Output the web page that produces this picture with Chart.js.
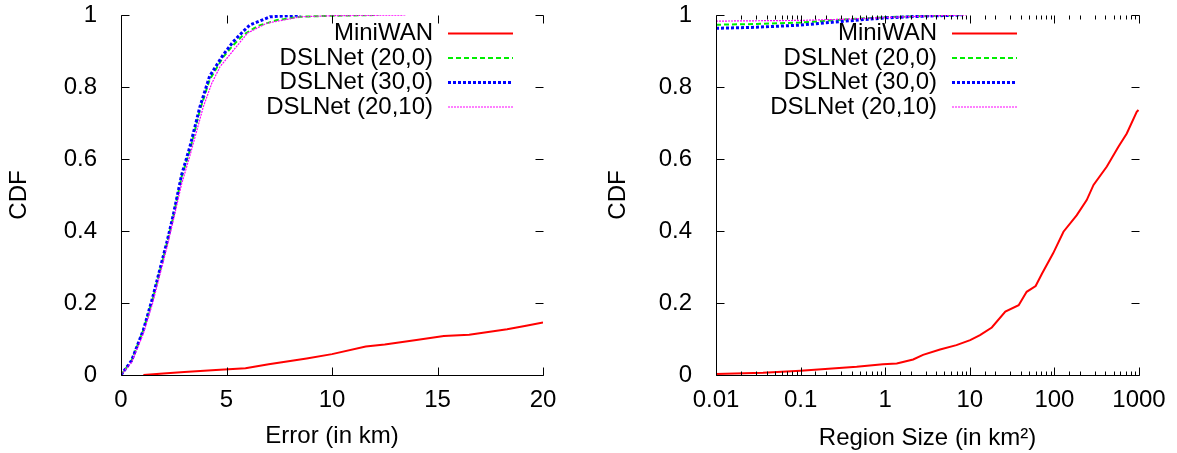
<!DOCTYPE html>
<html>
<head>
<meta charset="utf-8">
<script src="https://cdn.jsdelivr.net/npm/chart.js@4.4.1/dist/chart.umd.min.js"></script>
<style>
  html, body { margin: 0; padding: 0; background: #fff; }
  canvas { position: absolute; top: 0; }
  #left { left: 0; }
  #right { left: 588px; }
</style>
</head>
<body>
<canvas id="left" width="588" height="453"></canvas>
<canvas id="right" width="589" height="453"></canvas>
<script>
const seriesNames = ['MiniWAN', 'DSLNet (20,0)', 'DSLNet (30,0)', 'DSLNet (20,10)'];
const cdfTicks = [0, 0.2, 0.4, 0.6, 0.8, 1];
const errorTicks = [0, 5, 10, 15, 20];
const sizeTicks = [0.01, 0.1, 1, 10, 100, 1000];

// left plot: error in km -> CDF
const errMiniwan = [[1.06, 0], [2, 0.004], [3, 0.008], [4.5, 0.014], [5.9, 0.019], [7, 0.03], [8.8, 0.046],
  [10, 0.058], [11.6, 0.079], [12.5, 0.085], [14, 0.097], [15.3, 0.108], [16.5, 0.112], [18.3, 0.127],
  [19.2, 0.137], [20, 0.146]];
const errDsl200 = [[0, 0], [0.5, 0.04], [1.06, 0.125], [1.5, 0.21], [1.85, 0.29], [2.2, 0.37], [2.48, 0.44],
  [2.87, 0.55], [3.27, 0.625], [3.74, 0.736], [4.2, 0.82], [4.85, 0.884], [5.3, 0.915], [5.8, 0.945],
  [6.5, 0.97], [7.4, 0.986], [8.5, 0.995], [10, 0.998], [12.2, 1]];
const errDsl300 = [[0, 0], [0.5, 0.04], [1.06, 0.125], [1.5, 0.215], [1.85, 0.295], [2.2, 0.375], [2.48, 0.445],
  [2.87, 0.555], [3.27, 0.635], [3.74, 0.745], [4.2, 0.83], [4.85, 0.89], [5.32, 0.926], [5.8, 0.955],
  [6.1, 0.972], [7.06, 0.995], [8.5, 1]];
const errDsl2010 = [[0, 0], [0.5, 0.035], [1.06, 0.115], [1.5, 0.2], [1.85, 0.28], [2.2, 0.36], [2.48, 0.43],
  [2.87, 0.53], [3.27, 0.61], [3.9, 0.745], [4.3, 0.81], [4.69, 0.856], [5.3, 0.9], [6, 0.95],
  [6.9, 0.977], [8.5, 0.995], [10, 0.998], [13.5, 1]];

// right plot: region size in km^2 -> CDF
const sizeMiniwan = [[0.01, 0.003], [0.036, 0.006], [0.1, 0.012], [0.46, 0.023], [0.94, 0.03], [1.37, 0.032],
  [2.14, 0.043], [2.8, 0.056], [4.45, 0.071], [6.95, 0.083], [10.1, 0.097], [13.2, 0.111], [18.2, 0.132],
  [26.3, 0.176], [37.8, 0.194], [47, 0.231], [60, 0.247], [71.5, 0.282], [96.6, 0.338], [128, 0.398],
  [184, 0.444], [241, 0.486], [290, 0.528], [417, 0.579], [571, 0.634], [717, 0.671], [940, 0.731], [985, 0.736]];
const sizeDsl200 = [[0.01, 0.973], [0.03, 0.975], [0.1, 0.979], [0.3, 0.987], [1, 0.994], [3, 0.997], [8.5, 1]];
const sizeDsl300 = [[0.01, 0.963], [0.03, 0.966], [0.1, 0.972], [0.3, 0.982], [1, 0.992], [3, 0.997], [8, 1]];
const sizeDsl2010 = [[0.01, 0.983], [0.1, 0.985], [0.3, 0.988], [1, 0.993], [3, 0.997], [9, 1]];

Chart.defaults.font.family = '"Liberation Sans", Arial, sans-serif';
Chart.defaults.font.size = 24;
Chart.defaults.color = '#000';

const styles = [
  { color: '#ff0000', width: 2, dash: [] },
  { color: '#00ee00', width: 2, dash: [5, 3] },
  { color: '#0000ff', width: 3, dash: [3, 2] },
  { color: '#ff00ff', width: 1.2, dash: [2, 1] }
];

function makeSets(list) {
  return list.map((pts, i) => ({
    label: seriesNames[i],
    data: pts.map(([x, y]) => ({ x, y })),
    borderColor: styles[i].color,
    borderWidth: styles[i].width,
    borderDash: styles[i].dash,
    pointRadius: 0,
    tension: 0,
    fill: false,
    order: list.length - i
  }));
}

// axis lines on left/bottom, inward ticks mirrored on all sides
const frame = {
  id: 'frame',
  afterDraw(chart) {
    const { ctx, chartArea: a } = chart;
    const xs = chart.scales.x, ys = chart.scales.y;
    const L = Math.round(a.left) + 0.5, R = Math.round(a.right) + 0.5;
    const T = Math.round(a.top) + 0.5, B = Math.round(a.bottom) + 0.5;
    ctx.save();
    ctx.strokeStyle = '#000';
    ctx.lineWidth = 1;
    ctx.beginPath();
    ctx.moveTo(L, T); ctx.lineTo(L, B); ctx.lineTo(R, B);
    xs.ticks.forEach(t => {
      const px = Math.round(xs.getPixelForValue(t.value)) + 0.5;
      const len = t.label ? 8 : 4;
      ctx.moveTo(px, B); ctx.lineTo(px, B - len);
      ctx.moveTo(px, T); ctx.lineTo(px, T + len);
    });
    ys.ticks.forEach(t => {
      const py = Math.round(ys.getPixelForValue(t.value)) + 0.5;
      ctx.moveTo(L, py); ctx.lineTo(L + 8, py);
      ctx.moveTo(R, py); ctx.lineTo(R - 8, py);
    });
    ctx.stroke();
    ctx.restore();
  }
};

// gnuplot-like key: text right aligned, sample line after it
const key = {
  id: 'key',
  afterDraw(chart, args, o) {
    const ctx = chart.ctx;
    ctx.save();
    ctx.font = '24px "Liberation Sans", Arial, sans-serif';
    ctx.textAlign = 'right';
    ctx.textBaseline = 'middle';
    ctx.fillStyle = '#000';
    chart.data.datasets.forEach((ds, i) => {
      const yy = o.top + i * o.step;
      ctx.fillText(ds.label, o.textRight, yy);
      ctx.beginPath();
      ctx.strokeStyle = ds.borderColor;
      ctx.lineWidth = ds.borderWidth;
      ctx.setLineDash(ds.borderDash);
      ctx.moveTo(o.lineFrom, yy);
      ctx.lineTo(o.lineTo, yy);
      ctx.stroke();
    });
    ctx.restore();
  }
};

function yAxis(width, titlePad) {
  return {
    min: 0, max: 1,
    afterBuildTicks: s => { s.ticks = cdfTicks.map(v => ({ value: v })); },
    ticks: { padding: 16, callback: v => String(v) },
    grid: { display: false },
    border: { display: false },
    title: { display: true, text: 'CDF', padding: { top: titlePad, bottom: 0 } },
    afterFit: s => { s.width = width; s.paddingTop = 0; s.paddingBottom = 0; }
  };
}

function xFit(s) {
  s.height = 78;
  s.paddingLeft = 0;
  s.paddingRight = 0;
}

new Chart(document.getElementById('left'), {
  type: 'line',
  data: { datasets: makeSets([errMiniwan, errDsl200, errDsl300, errDsl2010]) },
  options: {
    responsive: false,
    animation: false,
    layout: { padding: { left: 0, top: 15, right: 45, bottom: 0 } },
    scales: {
      x: {
        type: 'linear', min: 0, max: 20,
        afterBuildTicks: s => { s.ticks = errorTicks.map(v => ({ value: v })); },
        ticks: { padding: 3, maxRotation: 0, autoSkip: false, callback: v => String(v) },
        grid: { display: false },
        border: { display: false },
        title: { display: true, text: 'Error (in km)', padding: { top: 0, bottom: 2 } },
        afterFit: xFit
      },
      y: yAxis(121, 5)
    },
    plugins: {
      legend: { display: false },
      tooltip: { enabled: false },
      key: { top: 33.5, step: 24.5, textRight: 433, lineFrom: 448, lineTo: 513 }
    }
  },
  plugins: [frame, key]
});

new Chart(document.getElementById('right'), {
  type: 'line',
  data: { datasets: makeSets([sizeMiniwan, sizeDsl200, sizeDsl300, sizeDsl2010]) },
  options: {
    responsive: false,
    animation: false,
    layout: { padding: { left: 0, top: 15, right: 38, bottom: 0 } },
    scales: {
      x: {
        type: 'logarithmic', min: 0.01, max: 1000,
        ticks: {
          padding: 3, maxRotation: 0, minRotation: 0, autoSkip: false,
          callback: v => sizeTicks.some(s => Math.abs(v / s - 1) < 1e-6) ? String(v) : ''
        },
        grid: { display: false },
        border: { display: false },
        title: { display: true, text: 'Region Size (in km²)', padding: { top: 0, bottom: 0 } },
        afterFit: xFit
      },
      y: yAxis(128, 16)
    },
    plugins: {
      legend: { display: false },
      tooltip: { enabled: false },
      key: { top: 33.5, step: 24.5, textRight: 349, lineFrom: 364, lineTo: 429 }
    }
  },
  plugins: [frame, key]
});
</script>
</body>
</html>
